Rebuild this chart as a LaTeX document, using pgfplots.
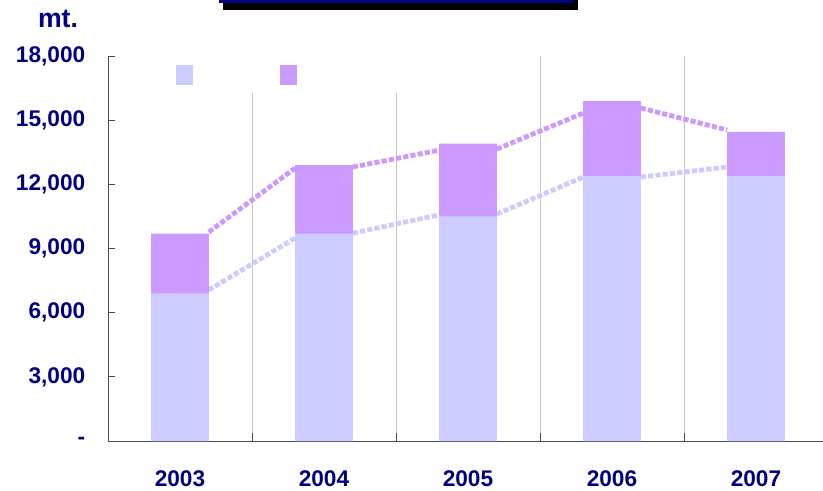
\documentclass[border=0pt]{standalone}
\usepackage{pgfplots}
\pgfplotsset{compat=1.18}
\usepackage{fontspec}
\setmainfont{Liberation Sans}
\definecolor{lav}{HTML}{CCCCFF}
\definecolor{pur}{HTML}{CC99FF}
\definecolor{navyt}{HTML}{000080}
\definecolor{gridc}{HTML}{C8C8C8}
\begin{document}
\begin{tikzpicture}
\useasboundingbox (0pt,0pt) rectangle (617.25pt,-367.5pt);
\fill[black] (167.25pt,15pt) rectangle (433.5pt,-7.5pt);
\fill[navyt] (164.25pt,15pt) rectangle (429.75pt,-2.25pt);
\node[font=\fontsize{20}{24}\selectfont\bfseries, text=navyt] at (43.5pt,-14.25pt) {mt.};
\begin{axis}[
  at={(81pt,-330.75pt)}, anchor=south west,
  width=540pt, height=288.75pt, scale only axis,
  xmin=-0.5, xmax=4.5, ymin=0, ymax=18000,
  axis x line=bottom, axis y line=left,
  axis line style={-, black!70, line width=0.75pt},
  xtick={0,...,4}, xticklabels={2003,2004,2005,2006,2007},
  major x tick style={draw=none},
  minor xtick={0.5,1.5,2.5,3.5},
  xminorgrids, minor x grid style={gridc, line width=0.75pt},
  minor tick length=6pt, tick align=inside,
  ytick={0,3000,...,18000},
  scaled y ticks=false,
  yticklabels={-,{3,000},{6,000},{9,000},{12,000},{15,000},{18,000}},
  major tick length=5.5pt,
  tick style={black!70, line width=0.75pt},
  ticklabel style={font=\fontsize{17}{20}\selectfont\bfseries, text=navyt},
  /pgf/number format/assume math mode=true,
  yticklabel style={xshift=-13.5pt},
  xticklabel style={yshift=-19pt},
  unbounded coords=jump,
  legend image code/.code={\fill[#1] (0pt,-7.125pt) rectangle (12pt,7.125pt);},
  legend columns=2,
  legend style={at={(rel axis cs:0.0722,1)}, anchor=north west, draw=none, fill=white,
    inner xsep=12pt, inner ysep=6.4pt, font=\small,
    /tikz/every even column/.append style={column sep=0pt}},
]
\addlegendimage{lav}
\addlegendentry{\hspace*{61.3pt}}
\addlegendimage{pur}
\addlegendentry{\hspace*{66pt}}
% dashed connecting lines (drawn behind bars)
\addplot[forget plot, pur, line width=3.6pt, dash pattern=on 3.9pt off 1.6pt]
  coordinates {(0.2,9770) (0.8,12760) (1,nan) (1.2,12810) (1.8,13600) (2,nan)
               (2.2,13650) (2.8,15330) (3,nan) (3.2,15570) (3.8,14540)};
\addplot[forget plot, lav, line width=3.6pt, dash pattern=on 3.9pt off 1.6pt]
  coordinates {(0.2,7060) (0.8,9490) (1,nan) (1.2,9720) (1.8,10570) (2,nan)
               (2.2,10610) (2.8,12340) (3,nan) (3.2,12340) (3.8,12810)};
% totals (upper segment colour)
\addplot[forget plot, ybar, bar width=0.4, bar shift=0pt, fill=pur, draw=none]
  coordinates {(0,9700) (1,12900) (2,13900) (3,15900) (4,14450)};
% lower segment
\addplot[forget plot, ybar, bar width=0.4, bar shift=0pt, fill=lav, draw=none]
  coordinates {(0,6900) (1,9700) (2,10500) (3,12400) (4,12400)};
\end{axis}
\end{tikzpicture}
\end{document}
